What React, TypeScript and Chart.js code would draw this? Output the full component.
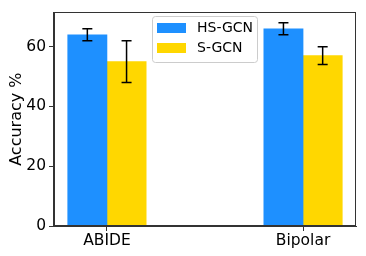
import React, { useEffect, useRef } from "react";
import { Chart, registerables } from "chart.js";

Chart.register(...registerables);

const categories = ["ABIDE", "Bipolar"];
const seriesNames = ["HS-GCN", "S-GCN"];
const hsGcn = [64, 66];
const sGcn = [55, 57];
const hsGcnErr = [2, 2];
const sGcnErr = [7, 3];
const yTicks = [0, 20, 40, 60];
const yTitle = "Accuracy %";

const colors = ["#1E90FF", "#FFD700"];
const FONT = "'DejaVu Sans', sans-serif";

const framePlugin = {
  id: "frameAndExtras",
  afterDatasetsDraw(chart: any) {
    const ctx = chart.ctx;
    const y = chart.scales.y;
    ctx.save();
    ctx.strokeStyle = "#000";
    ctx.lineWidth = 1.5;
    chart.data.datasets.forEach((ds: any, i: number) => {
      const meta = chart.getDatasetMeta(i);
      meta.data.forEach((el: any, j: number) => {
        const v = ds.data[j].y;
        const e = ds.errors[j];
        const x = el.x;
        const yt = y.getPixelForValue(v + e);
        const yb = y.getPixelForValue(v - e);
        const cap = 5;
        ctx.beginPath();
        ctx.moveTo(x, yt);
        ctx.lineTo(x, yb);
        ctx.moveTo(x - cap, yt);
        ctx.lineTo(x + cap, yt);
        ctx.moveTo(x - cap, yb);
        ctx.lineTo(x + cap, yb);
        ctx.stroke();
      });
    });
    ctx.restore();
  },
  afterDraw(chart: any) {
    const ctx = chart.ctx;
    const a = chart.chartArea;
    ctx.save();
    ctx.strokeStyle = "#333";
    ctx.lineWidth = 1;
    ctx.strokeRect(Math.round(a.left) - 0.5, Math.round(a.top) + 0.5, Math.round(a.right - a.left), Math.round(a.bottom - a.top) - 1);

    // legend
    const lx = 152.5, ly = 16.5, lw = 105, lh = 46, r = 3;
    ctx.beginPath();
    ctx.moveTo(lx + r, ly);
    ctx.lineTo(lx + lw - r, ly);
    ctx.quadraticCurveTo(lx + lw, ly, lx + lw, ly + r);
    ctx.lineTo(lx + lw, ly + lh - r);
    ctx.quadraticCurveTo(lx + lw, ly + lh, lx + lw - r, ly + lh);
    ctx.lineTo(lx + r, ly + lh);
    ctx.quadraticCurveTo(lx, ly + lh, lx, ly + lh - r);
    ctx.lineTo(lx, ly + r);
    ctx.quadraticCurveTo(lx, ly, lx + r, ly);
    ctx.closePath();
    ctx.fillStyle = "rgba(255,255,255,0.8)";
    ctx.fill();
    ctx.strokeStyle = "#cccccc";
    ctx.stroke();
    ctx.font = "14px " + FONT;
    ctx.textBaseline = "middle";
    ctx.textAlign = "left";
    chart.data.datasets.forEach((ds: any, i: number) => {
      const py = 23 + i * 20;
      ctx.fillStyle = ds.backgroundColor;
      ctx.fillRect(157, py, 29, 10);
      ctx.fillStyle = "#000";
      ctx.fillText(ds.label, 197, py + 5.5);
    });
    ctx.restore();
  },
};

export default function App() {
  const ref = useRef<HTMLCanvasElement | null>(null);
  useEffect(() => {
    document.body.style.margin = "0";
    const seriesVals = [hsGcn, sGcn];
    const seriesErrs = [hsGcnErr, sGcnErr];
    const offsets = [-0.1, 0.1];
    const chart = new Chart(ref.current as HTMLCanvasElement, {
      type: "bar",
      data: {
        datasets: seriesNames.map((name, s) => ({
          label: name,
          data: categories.map((_, i) => ({ x: i + offsets[s], y: seriesVals[s][i] })),
          errors: seriesErrs[s],
          backgroundColor: colors[s],
          borderWidth: 0,
          grouped: false,
          barPercentage: 1,
          categoryPercentage: 1,
        })) as any,
      },
      options: {
        animation: false,
        responsive: false,
        devicePixelRatio: 1,
        layout: { padding: { top: 10, right: 10, left: 0, bottom: 0 } },
        plugins: { legend: { display: false }, tooltip: { enabled: false } },
        scales: {
          x: {
            type: "linear",
            offset: false,
            min: -0.27,
            max: 1.27,
            afterBuildTicks: (scale: any) => {
              scale.ticks = categories.map((_, i) => ({ value: i }));
            },
            afterFit: (scale: any) => {
              scale.height = 30;
            },
            grid: { offset: false, drawOnChartArea: false, drawTicks: true, tickLength: 5, color: "#333" },
            border: { display: true, color: "#333" },
            ticks: {
              padding: 1,
              color: "#000",
              font: { family: FONT, size: 15.5 },
              callback: (v: any) => categories[Math.round(Number(v))],
              maxRotation: 0,
            },
          },
          y: {
            min: 0,
            max: 71.5,
            afterBuildTicks: (scale: any) => {
              scale.ticks = yTicks.map((v) => ({ value: v }));
            },
            afterFit: (scale: any) => {
              scale.width = 54;
            },
            grid: { drawOnChartArea: false, drawTicks: true, tickLength: 5, color: "#333" },
            border: { display: true, color: "#333" },
            ticks: {
              padding: 3,
              color: "#000",
              font: { family: FONT, size: 15.5 },
            },
            title: {
              display: true,
              text: yTitle,
              color: "#000",
              font: { family: FONT, size: 16 },
              padding: { top: 7, bottom: 0 },
            },
          },
        },
      } as any,
      plugins: [framePlugin],
    });
    return () => chart.destroy();
  }, []);
  return (
    <div style={{ width: 366, height: 256 }}>
      <canvas ref={ref} width={366} height={256} style={{ width: 366, height: 256, display: "block" }} />
    </div>
  );
}
